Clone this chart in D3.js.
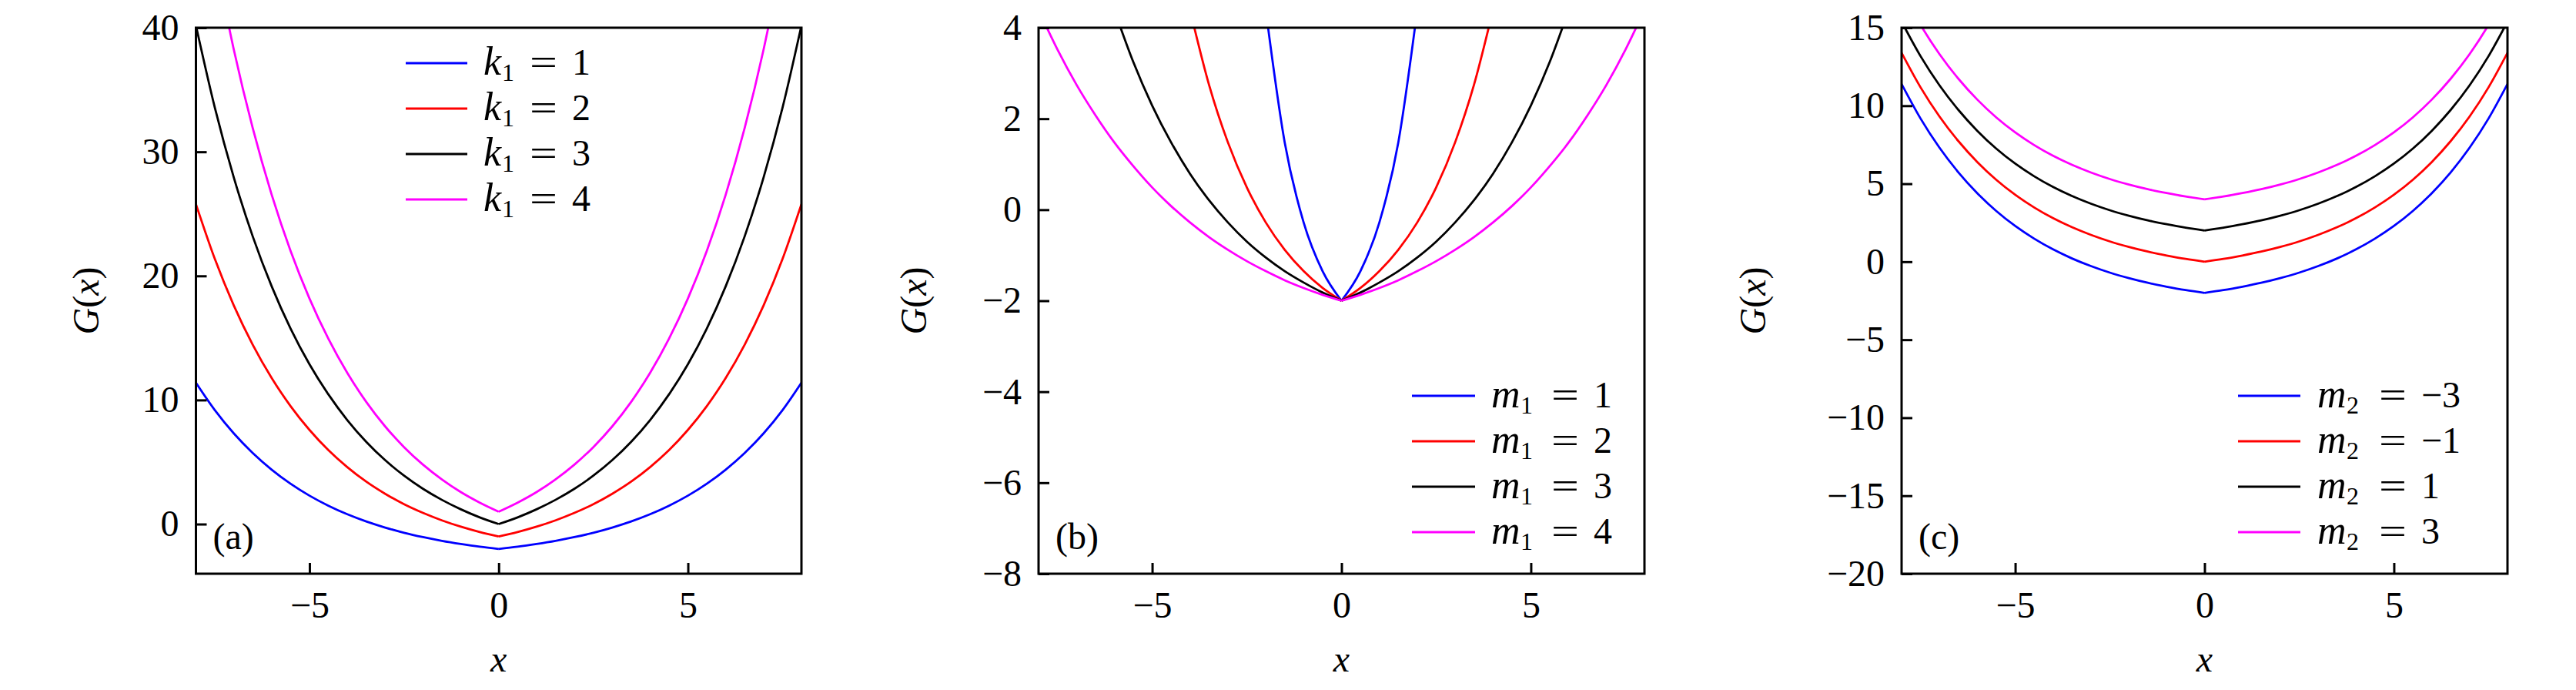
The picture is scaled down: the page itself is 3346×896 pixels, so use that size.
<!DOCTYPE html>
<html>
<head>
<meta charset="utf-8">
<script src="https://cdn.jsdelivr.net/npm/d3@7"></script>
<style>
  body { margin: 0; background: #fff; }
  svg { display: block; }
  svg text { font-family: "Liberation Serif", "DejaVu Serif", serif !important; fill: #000; }
</style>
</head>
<body>
<svg id="chart" width="3346" height="896" font-family="Liberation Serif"></svg>
<script>
// ---------------- data ----------------
const xValues = [-8, -7.5, -7, -6.5, -6, -5.5, -5, -4.5, -4, -3.5, -3, -2.5, -2, -1.5, -1, -0.5, 0,
                 0.5, 1, 1.5, 2, 2.5, 3, 3.5, 4, 4.5, 5, 5.5, 6, 6.5, 7, 7.5, 8];
const xTickValues = [-5, 0, 5];

// panel (a): k1 = 1..4
const k1Values = [1, 2, 3, 4];
const aK1 = [11.39, 9.18, 7.31, 5.73, 4.39, 3.25, 2.29, 1.48, 0.79, 0.21, -0.28, -0.70, -1.05, -1.35, -1.60, -1.82, -2,
             -1.82, -1.60, -1.35, -1.05, -0.70, -0.28, 0.21, 0.79, 1.48, 2.29, 3.25, 4.39, 5.73, 7.31, 9.18, 11.39];
const aK2 = [25.78, 21.36, 17.62, 14.46, 11.78, 9.51, 7.59, 5.96, 4.59, 3.42, 2.44, 1.60, 0.90, 0.30, -0.21, -0.64, -1,
             -0.64, -0.21, 0.30, 0.90, 1.60, 2.44, 3.42, 4.59, 5.96, 7.59, 9.51, 11.78, 14.46, 17.62, 21.36, 25.78];
const aK3 = [40.18, 33.55, 27.94, 23.19, 19.17, 15.76, 12.88, 10.45, 8.38, 6.63, 5.15, 3.90, 2.84, 1.95, 1.19, 0.54, 0,
             0.54, 1.19, 1.95, 2.84, 3.90, 5.15, 6.63, 8.38, 10.45, 12.88, 15.76, 19.17, 23.19, 27.94, 33.55, 40.18];
const aK4 = [null, 45.73, 38.25, 31.92, 26.56, 22.02, 18.18, 14.93, 12.18, 9.85, 7.87, 6.20, 4.79, 3.60, 2.58, 1.73, 1,
             1.73, 2.58, 3.60, 4.79, 6.20, 7.87, 9.85, 12.18, 14.93, 18.18, 22.02, 26.56, 31.92, 38.25, 45.73, null];
const aTicksY = [0, 10, 20, 30, 40];

// panel (b): m1 = 1..4
const m1Values = [1, 2, 3, 4];
const bM1 = [null, null, null, null, null, null, null, null, null, null, null, null, 4.39, 1.48, -0.28, -1.35, -2,
             -1.35, -0.28, 1.48, 4.39, null, null, null, null, null, null, null, null, null, null, null, null];
const bM2 = [null, null, null, null, null, null, null, null, 4.39, 2.75, 1.48, 0.49, -0.28, -0.88, -1.35, -1.72, -2,
             -1.72, -1.35, -0.88, -0.28, 0.49, 1.48, 2.75, 4.39, null, null, null, null, null, null, null, null];
const bM3 = [null, null, null, null, 4.39, 3.25, 2.29, 1.48, 0.79, 0.21, -0.28, -0.70, -1.05, -1.35, -1.60, -1.82, -2,
             -1.82, -1.60, -1.35, -1.05, -0.70, -0.28, 0.21, 0.79, 1.48, 2.29, 3.25, 4.39, null, null, null, null];
const bM4 = [4.39, 3.52, 2.75, 2.08, 1.48, 0.96, 0.49, 0.08, -0.28, -0.60, -0.88, -1.13, -1.35, -1.55, -1.72, -1.87, -2,
             -1.87, -1.72, -1.55, -1.35, -1.13, -0.88, -0.60, -0.28, 0.08, 0.49, 0.96, 1.48, 2.08, 2.75, 3.52, 4.39];
const bTicksY = [-8, -6, -4, -2, 0, 2, 4];

// panel (c): m2 = -3, -1, 1, 3
const m2Values = [-3, -1, 1, 3];
const cA = [11.39, 9.18, 7.31, 5.73, 4.39, 3.25, 2.29, 1.48, 0.79, 0.21, -0.28, -0.70, -1.05, -1.35, -1.60, -1.82, -2,
            -1.82, -1.60, -1.35, -1.05, -0.70, -0.28, 0.21, 0.79, 1.48, 2.29, 3.25, 4.39, 5.73, 7.31, 9.18, 11.39];
const cB = [13.39, 11.18, 9.31, 7.73, 6.39, 5.25, 4.29, 3.48, 2.79, 2.21, 1.72, 1.30, 0.95, 0.65, 0.40, 0.18, 0,
            0.18, 0.40, 0.65, 0.95, 1.30, 1.72, 2.21, 2.79, 3.48, 4.29, 5.25, 6.39, 7.73, 9.31, 11.18, 13.39];
const cC = [15.39, 13.18, 11.31, 9.73, 8.39, 7.25, 6.29, 5.48, 4.79, 4.21, 3.72, 3.30, 2.95, 2.65, 2.40, 2.18, 2,
            2.18, 2.40, 2.65, 2.95, 3.30, 3.72, 4.21, 4.79, 5.48, 6.29, 7.25, 8.39, 9.73, 11.31, 13.18, 15.39];
const cD = [17.39, 15.18, 13.31, 11.73, 10.39, 9.25, 8.29, 7.48, 6.79, 6.21, 5.72, 5.30, 4.95, 4.65, 4.40, 4.18, 4,
            4.18, 4.40, 4.65, 4.95, 5.30, 5.72, 6.21, 6.79, 7.48, 8.29, 9.25, 10.39, 11.73, 13.31, 15.18, 17.39];
const cTicksY = [-20, -15, -10, -5, 0, 5, 10, 15];

const seriesColors = ["#0000ff", "#ff0000", "#000000", "#ff00ff"];

// ---------------- layout ----------------
const TOP = 36, BOTTOM = 745;
const FS = 48;
const FONT = "Liberation Serif";
const fmt = v => (v < 0 ? "\u2212" + Math.abs(v) : String(v));

const panels = [
  { id: "a", left: 254.5, right: 1041, yDomain: [-4, 40], yTicks: aTicksY,
    series: [aK1, aK2, aK3, aK4], sym: "k", sub: "1", params: k1Values,
    leg: { x1: 527, x2: 607, tx: 628, rows: [82, 141, 200, 259], subOff: 24, eqOff: 60, valOff: 115 },
    ylabX: 128 },
  { id: "b", left: 1349, right: 2136, yDomain: [-8, 4], yTicks: bTicksY,
    series: [bM1, bM2, bM3, bM4], sym: "m", sub: "1", params: m1Values,
    leg: { x1: 1834, x2: 1916, tx: 1937, rows: [514, 573, 632, 691], subOff: 38, eqOff: 78, valOff: 133 },
    ylabX: 1203 },
  { id: "c", left: 2470, right: 3257, yDomain: [-20, 15], yTicks: cTicksY,
    series: [cA, cB, cC, cD], sym: "m", sub: "2", params: m2Values,
    leg: { x1: 2907, x2: 2988, tx: 3010, rows: [514, 573, 632, 691], subOff: 38, eqOff: 80, valOff: 135 },
    ylabX: 2293 }
];

const svg = d3.select("#chart");

panels.forEach(p => {
  const x = d3.scaleLinear().domain([-8, 8]).range([p.left, p.right]);
  const y = d3.scaleLinear().domain(p.yDomain).range([BOTTOM, TOP]);
  const g = svg.append("g").attr("font-family", FONT);

  const clipId = "clip-" + p.id;
  svg.append("clipPath").attr("id", clipId)
    .append("rect").attr("x", p.left).attr("y", TOP)
    .attr("width", p.right - p.left).attr("height", BOTTOM - TOP);

  // curves (split at the cusp x = 0)
  const line = d3.line().x(d => x(d[0])).y(d => y(d[1])).curve(d3.curveMonotoneX);
  const curves = g.append("g").attr("clip-path", `url(#${clipId})`);
  p.series.forEach((ys, i) => {
    const pts = xValues.map((v, j) => [v, ys[j]]).filter(d => d[1] != null);
    const leftPart = pts.filter(d => d[0] <= 0);
    const rightPart = pts.filter(d => d[0] >= 0);
    curves.append("path")
      .attr("d", line(leftPart) + line(rightPart))
      .attr("fill", "none")
      .attr("stroke", seriesColors[i])
      .attr("stroke-width", 2.8)
      .attr("stroke-linejoin", "round");
  });

  // axes with inward ticks
  const yAxis = d3.axisLeft(y).tickValues(p.yTicks).tickFormat(fmt)
    .tickSizeInner(-14).tickSizeOuter(0).tickPadding(22);
  const xAxis = d3.axisBottom(x).tickValues(xTickValues).tickFormat(fmt)
    .tickSizeInner(-14).tickSizeOuter(0).tickPadding(23);

  const gy = g.append("g").attr("transform", `translate(${p.left},0)`).call(yAxis);
  const gx = g.append("g").attr("transform", `translate(0,${BOTTOM})`).call(xAxis);
  [gy, gx].forEach(ax => {
    ax.select(".domain").remove();
    ax.attr("font-family", FONT).attr("font-size", FS);
    ax.selectAll(".tick line").attr("stroke", "#000").attr("stroke-width", 3);
    ax.selectAll(".tick text").attr("font-family", FONT).attr("font-size", FS).attr("fill", "#000");
  });

  // frame
  g.append("rect")
    .attr("x", p.left).attr("y", TOP)
    .attr("width", p.right - p.left).attr("height", BOTTOM - TOP)
    .attr("fill", "none").attr("stroke", "#000").attr("stroke-width", 3);

  // x label
  g.append("text").attr("x", x(0)).attr("y", 872)
    .attr("text-anchor", "middle").attr("font-size", FS).attr("font-style", "italic").text("x");

  // y label G(x)
  const yl = g.append("text")
    .attr("transform", `translate(${p.ylabX},${(TOP + BOTTOM) / 2}) rotate(-90)`)
    .attr("text-anchor", "middle").attr("font-size", FS);
  yl.append("tspan").attr("font-style", "italic").text("G");
  yl.append("tspan").text("(");
  yl.append("tspan").attr("font-style", "italic").text("x");
  yl.append("tspan").text(")");

  // panel tag
  g.append("text").attr("x", p.left + 22).attr("y", 713)
    .attr("font-size", FS).text("(" + p.id + ")");

  // legend
  const L = p.leg;
  p.params.forEach((val, i) => {
    const ry = L.rows[i];
    g.append("line").attr("x1", L.x1).attr("x2", L.x2).attr("y1", ry).attr("y2", ry)
      .attr("stroke", seriesColors[i]).attr("stroke-width", 3);
    g.append("text").attr("x", L.tx).attr("y", ry + 15).attr("font-size", FS + 4)
      .attr("font-style", "italic").text(p.sym);
    g.append("text").attr("x", L.tx + L.subOff).attr("y", ry + 23).attr("font-size", 32).text(p.sub);
    g.append("text").attr("x", L.tx + L.eqOff).attr("y", ry + 15).attr("font-size", FS)
      .attr("textLength", 36).attr("lengthAdjust", "spacingAndGlyphs").text("=");
    g.append("text").attr("x", L.tx + L.valOff).attr("y", ry + 15).attr("font-size", FS).text(fmt(val));
  });
});
</script>
</body>
</html>
